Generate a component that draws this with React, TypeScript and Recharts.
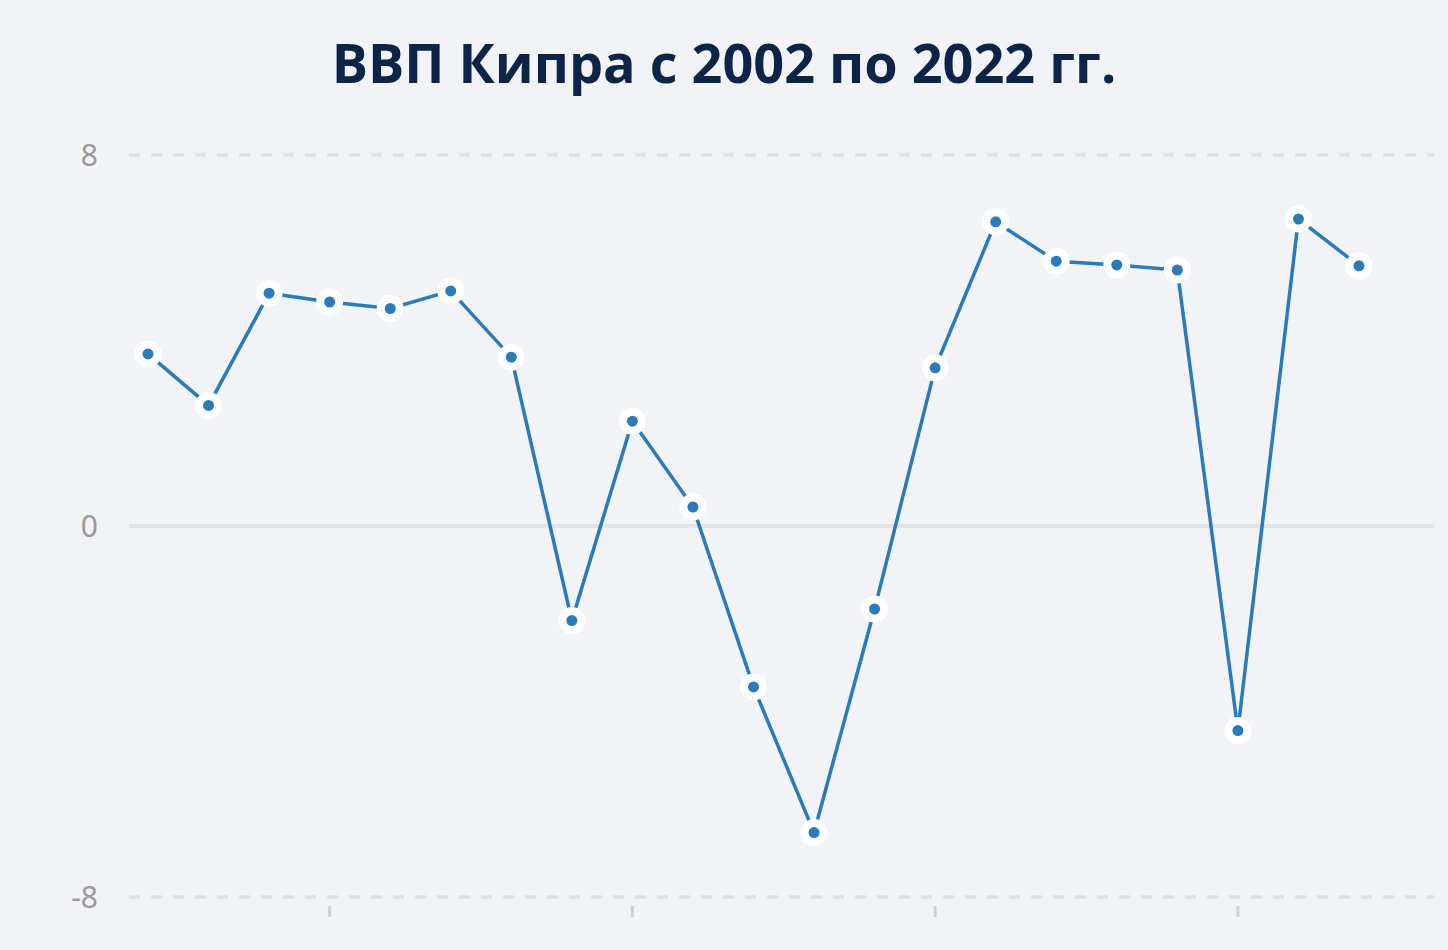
import React from "react";
import {
  LineChart,
  Line,
  XAxis,
  YAxis,
  CartesianGrid,
  ReferenceLine,
} from "recharts";

const years = [
  2002, 2003, 2004, 2005, 2006, 2007, 2008, 2009, 2010, 2011, 2012,
  2013, 2014, 2015, 2016, 2017, 2018, 2019, 2020, 2021, 2022,
];
const gdpGrowth = [
  3.71, 2.6, 5.02, 4.83, 4.69, 5.07, 3.64, -2.04, 2.26, 0.41, -3.47,
  -6.61, -1.79, 3.41, 6.56, 5.71, 5.63, 5.52, -4.41, 6.62, 5.61,
];
const xTicks = [2005, 2010, 2015, 2020];
const yTicks = [-8, 0, 8];

const title = "ВВП Кипра с 2002 по 2022 гг.";

const chartData = years.map((year, i) => ({ year, value: gdpGrowth[i] }));

const LINE_COLOR = "#2b7bba";

function Dot(props: any) {
  const { cx, cy, index } = props;
  if (cx == null || cy == null) return null;
  return (
    <g key={`dot-${index}`}>
      <circle cx={cx} cy={cy} r={13.5} fill="#ffffff" />
      <circle cx={cx} cy={cy} r={5.5} fill={LINE_COLOR} />
    </g>
  );
}

export default function App() {
  return (
    <div
      style={{
        position: "absolute",
        left: 0,
        top: 0,
        width: 1448,
        height: 950,
        background: "#f1f3f7",
        fontFamily: "'Noto Sans', sans-serif",
      }}
    >
      <div
        style={{
          position: "absolute",
          top: 27,
          left: 0,
          width: 1448,
          textAlign: "center",
          fontFamily: "'Open Sans', sans-serif",
          fontWeight: 700,
          fontSize: 54,
          color: "#0c2447",
          lineHeight: "70px",
        }}
      >
        {title}
      </div>
      <div style={{ position: "absolute", left: 0, top: 0 }}>
        <LineChart
          width={1448}
          height={950}
          data={chartData}
          margin={{ top: 155, right: 14, bottom: 0, left: 0 }}
        >
          <CartesianGrid
            vertical={false}
            horizontalValues={[8, -8]}
            stroke="#dfe1e4"
            strokeWidth={3.5}
            strokeDasharray="11 11"
          />
          <ReferenceLine y={0} stroke="#e0e5e9" strokeWidth={4} />
          <XAxis
            dataKey="year"
            type="number"
            domain={[2001.686, 2023.239]}
            ticks={xTicks}
            allowDataOverflow
            axisLine={false}
            tickLine={{ stroke: "#cfd1d4", strokeWidth: 3 }}
            tickSize={11}
            tickFormatter={() => ""}
            height={44}
          />
          <YAxis
            type="number"
            domain={[-8.194, 8]}
            ticks={yTicks}
            allowDataOverflow
            axisLine={false}
            tickLine={false}
            tickMargin={25}
            width={129}
            tick={{ fill: "#9a9a9a", fontSize: 30, fontFamily: "'Noto Sans', sans-serif" }}
          />
          <Line
            type="linear"
            dataKey="value"
            stroke={LINE_COLOR}
            strokeWidth={3.5}
            dot={<Dot />}
            activeDot={false}
            isAnimationActive={false}
          />
        </LineChart>
      </div>
    </div>
  );
}
